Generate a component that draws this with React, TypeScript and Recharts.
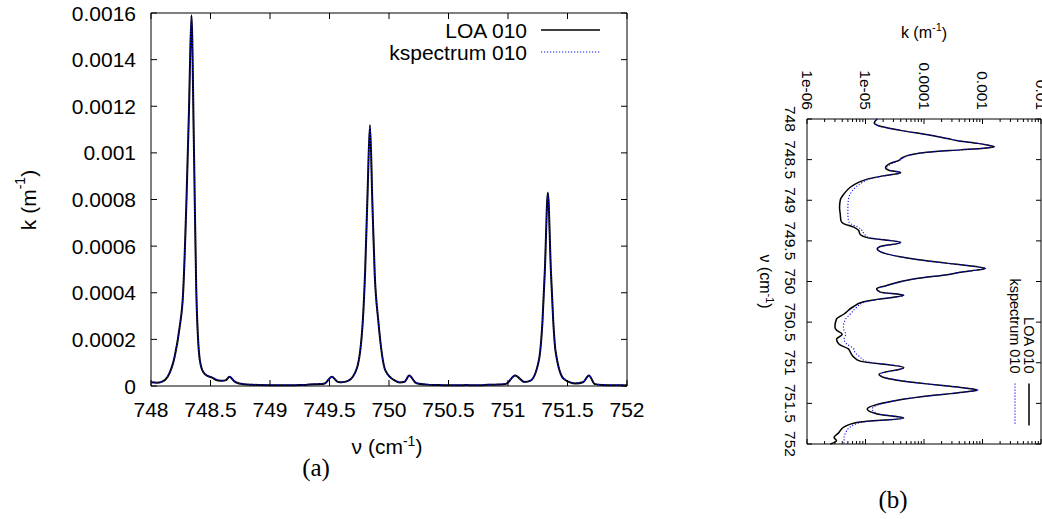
import React from "react";
import { LineChart, Line, XAxis, YAxis, ReferenceArea } from "recharts";

// ---- data ----
const wavenumber = [
  748.0, 748.05, 748.09, 748.14, 748.2, 748.24, 748.27, 748.3, 748.32, 748.34,
  748.36, 748.38, 748.41, 748.44, 748.48, 748.51, 748.55, 748.6, 748.63, 748.66,
  748.7, 748.74, 748.78, 748.84, 748.92, 749.0, 749.09, 749.17, 749.25, 749.29,
  749.33, 749.37, 749.42, 749.46, 749.52, 749.57, 749.6, 749.66, 749.73, 749.78,
  749.8, 749.82, 749.84, 749.86, 749.88, 749.91, 749.97, 750.05, 750.09, 750.13,
  750.17, 750.22, 750.25, 750.32, 750.4, 750.46, 750.56, 750.6, 750.65, 750.71,
  750.77, 750.83, 750.87, 750.93, 750.98, 751.06, 751.14, 751.19, 751.26, 751.29,
  751.31, 751.335, 751.36, 751.38, 751.4, 751.47, 751.57, 751.63, 751.68, 751.73,
  751.79, 751.86, 751.92, 751.96, 752.0,
];

const kLOA = [
  1.58e-5, 1.41e-5, 1.78e-5, 3.98e-5, 1.29e-4, 2.5e-4, 4.0e-4, 8.3e-4, 1.2e-3, 1.59e-3,
  1.05e-3, 4.2e-4, 1.12e-4, 5.9e-5, 4.2e-5, 3.7e-5, 2.6e-5, 2.2e-5, 2.5e-5, 4.0e-5,
  2.0e-5, 1.07e-5, 7.6e-6, 5.5e-6, 4.3e-6, 3.7e-6, 3.6e-6, 3.7e-6, 3.8e-6, 4.3e-6,
  6.3e-6, 7.6e-6, 8.1e-6, 1.07e-5, 4.0e-5, 1.78e-5, 1.58e-5, 2.3e-5, 7.6e-5, 2.8e-4,
  5.0e-4, 8.3e-4, 1.12e-3, 7.9e-4, 4.8e-4, 2.8e-4, 6.6e-5, 2.3e-5, 1.55e-5, 1.78e-5,
  4.5e-5, 1.58e-5, 9.3e-6, 5.9e-6, 4.3e-6, 3.2e-6, 3.0e-6, 3.2e-6, 4.0e-6, 3.2e-6,
  3.5e-6, 5.1e-6, 5.5e-6, 6.3e-6, 8.1e-6, 4.5e-5, 1.7e-5, 2.3e-5, 1.12e-4, 2.8e-4,
  5.0e-4, 8.3e-4, 5.0e-4, 2.8e-4, 1.48e-4, 3.0e-5, 1.07e-5, 1.58e-5, 4.5e-5, 8.1e-6,
  4.3e-6, 3.5e-6, 2.9e-6, 3.2e-6, 2.5e-6,
];

const kKspectrum = [
  1.6e-5, 1.45e-5, 1.8e-5, 4.0e-5, 1.29e-4, 2.5e-4, 4.0e-4, 8.3e-4, 1.2e-3, 1.58e-3,
  1.05e-3, 4.2e-4, 1.12e-4, 6.0e-5, 4.4e-5, 3.8e-5, 2.8e-5, 2.3e-5, 2.6e-5, 4.0e-5,
  2.1e-5, 1.15e-5, 8.9e-6, 6.8e-6, 5.5e-6, 5.1e-6, 5.0e-6, 5.0e-6, 5.1e-6, 5.6e-6,
  7.4e-6, 8.7e-6, 9.6e-6, 1.15e-5, 4.0e-5, 1.8e-5, 1.6e-5, 2.35e-5, 7.6e-5, 2.8e-4,
  5.0e-4, 8.3e-4, 1.11e-3, 7.9e-4, 4.8e-4, 2.8e-4, 6.6e-5, 2.35e-5, 1.6e-5, 1.8e-5,
  4.5e-5, 1.62e-5, 1.0e-5, 7.0e-6, 5.5e-6, 4.6e-6, 4.2e-6, 4.3e-6, 4.6e-6, 4.3e-6,
  4.8e-6, 6.3e-6, 6.6e-6, 8.1e-6, 1.0e-5, 4.5e-5, 1.75e-5, 2.4e-5, 1.12e-4, 2.8e-4,
  5.0e-4, 8.2e-4, 5.0e-4, 2.8e-4, 1.48e-4, 3.1e-5, 1.3e-5, 1.7e-5, 4.5e-5, 9.0e-6,
  5.5e-6, 4.6e-6, 4.3e-6, 4.3e-6, 4.3e-6,
];

const seriesNames = ["LOA 010", "kspectrum 010"];

const nuTicks = [748, 748.5, 749, 749.5, 750, 750.5, 751, 751.5, 752];
const nuTickLabels = ["748", "748.5", "749", "749.5", "750", "750.5", "751", "751.5", "752"];

const linTicks = [0, 0.0002, 0.0004, 0.0006, 0.0008, 0.001, 0.0012, 0.0014, 0.0016];
const linTickLabels = ["0", "0.0002", "0.0004", "0.0006", "0.0008", "0.001", "0.0012", "0.0014", "0.0016"];

const logMajorTicks = [1e-6, 1e-5, 1e-4, 1e-3, 1e-2];
const logMajorLabels = ["1e-06", "1e-05", "0.0001", "0.001", "0.01"];
const logMinorTicks = [
  2e-6, 3e-6, 4e-6, 5e-6, 6e-6, 7e-6, 8e-6, 9e-6,
  2e-5, 3e-5, 4e-5, 5e-5, 6e-5, 7e-5, 8e-5, 9e-5,
  2e-4, 3e-4, 4e-4, 5e-4, 6e-4, 7e-4, 8e-4, 9e-4,
  2e-3, 3e-3, 4e-3, 5e-3, 6e-3, 7e-3, 8e-3, 9e-3,
];

const data = wavenumber.map((nu, i) => ({ nu, loa: kLOA[i], ks: kKspectrum[i] }));

// ---- styling / layout ----
const SANS = "'Liberation Sans', Arial, Helvetica, sans-serif";
const SERIF = "'Liberation Serif', 'Times New Roman', serif";
const BLACK = "#000000";
const BLUE = "#1010f0";
const DOT = "1.2 1.8";

const A = { w: 660, h: 500, left: 151, top: 13, right: 627, bottom: 386, fs: 21, tick: 6 };
const B = { w: 455, h: 304, left: 110, top: 10, right: 435, bottom: 244, fs: 15.5, tick: 5, minor: 3 };

const coordOf = (props: any, fallback: number) => {
  const c = props?.payload?.coordinate;
  return typeof c === "number" ? c : fallback;
};

const XTickA = (props: any) => {
  const c = coordOf(props, props.x);
  const i = nuTicks.indexOf(props.payload.value);
  return (
    <g>
      <line x1={c} x2={c} y1={A.bottom} y2={A.bottom - A.tick} stroke={BLACK} />
      <line x1={c} x2={c} y1={A.top} y2={A.top + A.tick} stroke={BLACK} />
      <text x={c} y={A.bottom + 31} textAnchor="middle" fontSize={A.fs} fontFamily={SANS} fill={BLACK}>
        {nuTickLabels[i]}
      </text>
    </g>
  );
};

const YTickA = (props: any) => {
  const c = coordOf(props, props.y);
  const i = linTicks.indexOf(props.payload.value);
  return (
    <g>
      <line x1={A.left} x2={A.left + A.tick} y1={c} y2={c} stroke={BLACK} />
      <line x1={A.right} x2={A.right - A.tick} y1={c} y2={c} stroke={BLACK} />
      <text x={A.left - 15} y={c + 7.5} textAnchor="end" fontSize={A.fs} fontFamily={SANS} fill={BLACK}>
        {linTickLabels[i]}
      </text>
    </g>
  );
};

const XTickB = (props: any) => {
  const c = coordOf(props, props.x);
  const i = nuTicks.indexOf(props.payload.value);
  return (
    <g>
      <line x1={c} x2={c} y1={B.bottom} y2={B.bottom - B.tick} stroke={BLACK} />
      <line x1={c} x2={c} y1={B.top} y2={B.top + B.tick} stroke={BLACK} />
      <text x={c} y={B.bottom + 22.3} textAnchor="middle" fontSize={B.fs} fontFamily={SANS} fill={BLACK}>
        {nuTickLabels[i]}
      </text>
    </g>
  );
};

const YTickB = (props: any) => {
  const c = coordOf(props, props.y);
  const i = logMajorTicks.indexOf(props.payload.value);
  const len = i >= 0 ? B.tick : B.minor;
  return (
    <g>
      <line x1={B.left} x2={B.left + len} y1={c} y2={c} stroke={BLACK} />
      <line x1={B.right} x2={B.right - len} y1={c} y2={c} stroke={BLACK} />
      {i >= 0 && (
        <text x={B.left - 9} y={c + 5.5} textAnchor="end" fontSize={B.fs} fontFamily={SANS} fill={BLACK}>
          {logMajorLabels[i]}
        </text>
      )}
    </g>
  );
};

const PanelA = () => (
  <LineChart
    width={A.w}
    height={A.h}
    data={data}
    margin={{ top: A.top, right: A.w - A.right, bottom: A.h - A.bottom - 1, left: A.left - 1 }}
  >
    <XAxis
      dataKey="nu"
      type="number"
      domain={[748, 752]}
      ticks={nuTicks}
      interval={0}
      height={1}
      axisLine={false}
      tickLine={false}
      tick={(p: any) => <XTickA {...p} />}
    />
    <YAxis
      type="number"
      domain={[0, 0.0016]}
      ticks={linTicks}
      interval={0}
      width={1}
      axisLine={false}
      tickLine={false}
      tick={(p: any) => <YTickA {...p} />}
    />
    <ReferenceArea x1={748} x2={752} y1={0} y2={0.0016} fill="none" stroke={BLACK} strokeWidth={1} fillOpacity={0} />
    <Line
      type="monotone"
      dataKey="loa"
      name={seriesNames[0]}
      stroke={BLACK}
      strokeWidth={2}
      dot={false}
      activeDot={false}
      isAnimationActive={false}
    />
    <Line
      type="monotone"
      dataKey="ks"
      name={seriesNames[1]}
      stroke={BLUE}
      strokeWidth={1.3}
      strokeDasharray={DOT}
      dot={false}
      activeDot={false}
      isAnimationActive={false}
    />
  </LineChart>
);

const PanelB = () => (
  <LineChart
    width={B.w}
    height={B.h}
    data={data}
    margin={{ top: B.top, right: B.w - B.right, bottom: B.h - B.bottom - 1, left: B.left - 1 }}
  >
    <XAxis
      dataKey="nu"
      type="number"
      domain={[748, 752]}
      ticks={nuTicks}
      interval={0}
      height={1}
      axisLine={false}
      tickLine={false}
      tick={(p: any) => <XTickB {...p} />}
    />
    <YAxis
      type="number"
      scale="log"
      domain={[1e-6, 1e-2]}
      allowDataOverflow
      ticks={[...logMajorTicks, ...logMinorTicks]}
      interval={0}
      width={1}
      axisLine={false}
      tickLine={false}
      tick={(p: any) => <YTickB {...p} />}
    />
    <ReferenceArea x1={748} x2={752} y1={1e-6} y2={1e-2} fill="none" stroke={BLACK} strokeWidth={1} fillOpacity={0} />
    <Line
      type="monotone"
      dataKey="loa"
      name={seriesNames[0]}
      stroke={BLACK}
      strokeWidth={1.5}
      dot={false}
      activeDot={false}
      isAnimationActive={false}
    />
    <Line
      type="monotone"
      dataKey="ks"
      name={seriesNames[1]}
      stroke={BLUE}
      strokeWidth={1.1}
      strokeDasharray={DOT}
      dot={false}
      activeDot={false}
      isAnimationActive={false}
    />
  </LineChart>
);

export default function App() {
  return (
    <div
      style={{
        position: "absolute",
        left: 0,
        top: 0,
        width: 1042,
        height: 519,
        overflow: "hidden",
        background: "#ffffff",
      }}
    >
      {/* panel (a) */}
      <div style={{ position: "absolute", left: 0, top: 0, width: A.w, height: A.h }}>
        <PanelA />
      </div>

      {/* panel (b), drawn unrotated then turned 90 degrees clockwise */}
      <div
        style={{
          position: "absolute",
          left: 746.7,
          top: 8.5,
          width: B.w,
          height: B.h,
          transformOrigin: "0 0",
          transform: `translate(${B.h}px, 0px) rotate(90deg)`,
        }}
      >
        <PanelB />
        <svg
          width={B.w}
          height={B.h}
          style={{ position: "absolute", left: 0, top: 0, pointerEvents: "none", overflow: "visible" }}
          fontFamily={SANS}
        >
          <text transform="translate(23.5,127) rotate(-90)" textAnchor="middle" dominantBaseline="central" fontSize={16}>
            k (m<tspan dy={-6} fontSize={11}>-1</tspan>
            <tspan dy={6}>)</tspan>
          </text>
          <text x={272.5} y={291} textAnchor="middle" fontSize={16}>
            ν (cm<tspan dy={-6} fontSize={11}>-1</tspan>
            <tspan dy={6}>)</tspan>
          </text>
          <text x={364.5} y={27} textAnchor="end" fontSize={14.5}>{seriesNames[0]}</text>
          <line x1={374.5} x2={416.5} y1={22} y2={22} stroke={BLACK} strokeWidth={1.5} />
          <text x={364.5} y={41} textAnchor="end" fontSize={14.5}>{seriesNames[1]}</text>
          <line x1={374.5} x2={416.5} y1={36} y2={36} stroke={BLUE} strokeWidth={1.1} strokeDasharray={DOT} />
        </svg>
      </div>

      {/* page-level texts of panel (a) and captions */}
      <svg
        width={1042}
        height={519}
        style={{ position: "absolute", left: 0, top: 0, pointerEvents: "none" }}
        fontFamily={SANS}
      >
        <text transform="translate(28,200) rotate(-90)" textAnchor="middle" dominantBaseline="central" fontSize={A.fs}>
          k (m<tspan dy={-8} fontSize={14}>-1</tspan>
          <tspan dy={8}>)</tspan>
        </text>
        <text x={387} y={453.5} textAnchor="middle" fontSize={A.fs}>
          ν (cm<tspan dy={-8} fontSize={14}>-1</tspan>
          <tspan dy={8}>)</tspan>
        </text>
        <text x={527} y={37.5} textAnchor="end" fontSize={A.fs}>{seriesNames[0]}</text>
        <line x1={541} x2={600} y1={30} y2={30} stroke={BLACK} strokeWidth={1.5} />
        <text x={527} y={59.5} textAnchor="end" fontSize={A.fs}>{seriesNames[1]}</text>
        <line x1={541} x2={600} y1={52} y2={52} stroke={BLUE} strokeWidth={1.2} strokeDasharray={DOT} />
        <text x={316} y={476} textAnchor="middle" fontSize={25} fontFamily={SERIF}>(a)</text>
        <text x={893} y={508} textAnchor="middle" fontSize={25} fontFamily={SERIF}>(b)</text>
      </svg>
    </div>
  );
}
